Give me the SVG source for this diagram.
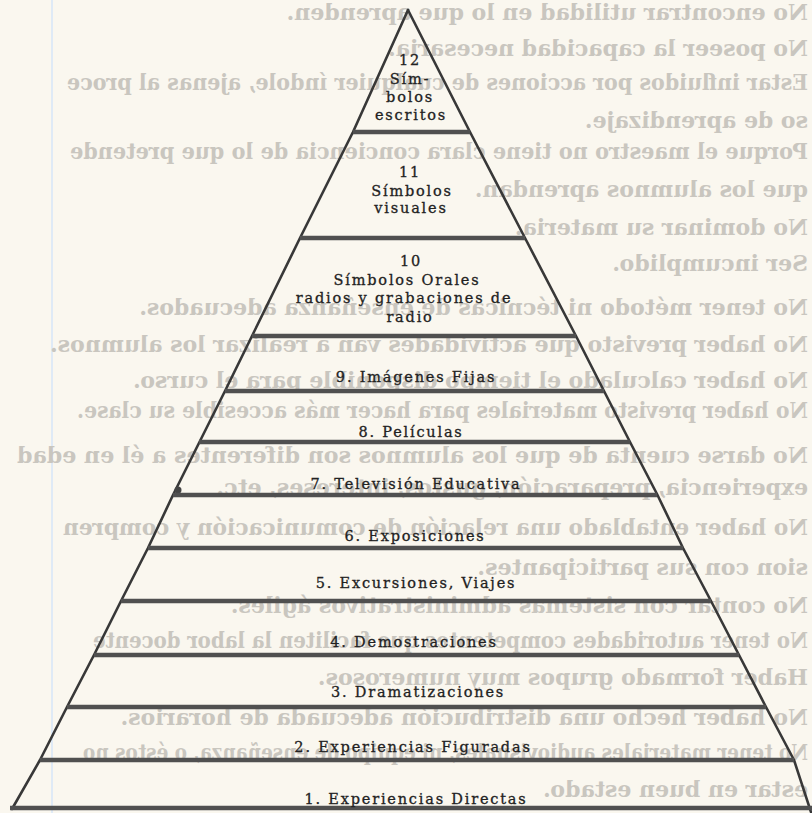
<svg xmlns="http://www.w3.org/2000/svg" width="812" height="813" viewBox="0 0 812 813">
<style>
.bleed{font-family:"DejaVu Serif","Liberation Serif",serif;font-weight:bold;font-size:22px;fill:#c9c6bf}
.lbl{font-family:"DejaVu Serif","Liberation Serif",serif;font-size:14.5px;letter-spacing:1.8px;fill:#222;stroke:#222;stroke-width:0.3;text-anchor:middle}
.edge{fill:none;stroke:#383838;stroke-width:2.6;stroke-linejoin:round;stroke-linecap:round}
.div{stroke:#505050;stroke-width:4.5;stroke-linecap:butt}
</style>
<rect x="0" y="0" width="812" height="813" fill="#faf7ef"/>
<line x1="52" y1="0" x2="52" y2="813" stroke="#d6e6f8" stroke-width="1.5"/>
<g id="show-through" transform="matrix(-1 0 0 1 812 0)">
<text class="bleed" x="4" y="20">No encontrar utilidad en lo que aprenden.</text>
<text class="bleed" x="4" y="56">No poseer la capacidad necesaria.</text>
<text class="bleed" x="4" y="90" textLength="741" lengthAdjust="spacingAndGlyphs">Estar influidos por acciones de cualquier índole, ajenas al proce</text>
<text class="bleed" x="4" y="128">so de aprendizaje.</text>
<text class="bleed" x="4" y="159" textLength="738" lengthAdjust="spacingAndGlyphs">Porque el maestro no tiene clara conciencia de lo que pretende</text>
<text class="bleed" x="4" y="197">que los alumnos aprendan.</text>
<text class="bleed" x="4" y="235">No dominar su materia.</text>
<text class="bleed" x="4" y="271">Ser incumplido.</text>
<text class="bleed" x="4" y="315">No tener método ni técnicas de enseñanza adecuados.</text>
<text class="bleed" x="4" y="352" textLength="758" lengthAdjust="spacingAndGlyphs">No haber previsto que actividades van a realizar los alumnos.</text>
<text class="bleed" x="4" y="388">No haber calculado el tiempo disponible para el curso.</text>
<text class="bleed" x="4" y="418" textLength="731" lengthAdjust="spacingAndGlyphs">No haber previsto materiales para hacer más accesible su clase.</text>
<text class="bleed" x="4" y="463" textLength="791" lengthAdjust="spacingAndGlyphs">No darse cuenta de que los alumnos son diferentes a él en edad</text>
<text class="bleed" x="4" y="495">experiencia, preparación, gustos, intereses, etc.</text>
<text class="bleed" x="4" y="535" textLength="745" lengthAdjust="spacingAndGlyphs">No haber entablado una relación de comunicación y compren</text>
<text class="bleed" x="4" y="575">sion con sus participantes.</text>
<text class="bleed" x="4" y="613">No contar con sistemas administrativos ágiles.</text>
<text class="bleed" x="4" y="648" textLength="715" lengthAdjust="spacingAndGlyphs">No tener autoridades competentes que faciliten la labor docente</text>
<text class="bleed" x="4" y="685">Haber formado grupos muy numerosos.</text>
<text class="bleed" x="4" y="725">No haber hecho una distribución adecuada de horarios.</text>
<text class="bleed" x="4" y="760" textLength="725" lengthAdjust="spacingAndGlyphs">No tener materiales audiovisuales, ni equipo de enseñanza, o éstos no</text>
<text class="bleed" x="4" y="797">estar en buen estado.</text>
</g>
<g id="pyramid-outline">
<path class="edge" d="M408,10 L353,132 L300,238 L252,336 L225,391 L199,443 L173,495 L148,548 L121,601 L94,655 L67,707 L40,760 L12,809"/>
<path class="edge" d="M408,10 L470,132 L525,238 L576,336 L604,391 L630,442 L657,494 L683,548 L711,601 L739,655 L766,707 L794,760 L811,812"/>
<circle cx="178" cy="490" r="3.5" fill="#444"/>
</g>
<g id="dividers">
<line class="div" x1="353" y1="132" x2="470" y2="132"/>
<line class="div" x1="300" y1="238" x2="525" y2="238"/>
<line class="div" x1="252" y1="336" x2="576" y2="336"/>
<line class="div" x1="225" y1="391" x2="604" y2="391"/>
<line class="div" x1="199" y1="442" x2="630" y2="442"/>
<line class="div" x1="173" y1="495" x2="657" y2="495"/>
<line class="div" x1="148" y1="548" x2="683" y2="548"/>
<line class="div" x1="121" y1="601" x2="711" y2="601"/>
<line class="div" x1="94" y1="655" x2="739" y2="655"/>
<line class="div" x1="67" y1="707" x2="766" y2="707"/>
<line class="div" x1="40" y1="760" x2="794" y2="760"/>
<line class="div" x1="10" y1="808" x2="812" y2="808"/>
</g>
<g id="tier-12">
<text class="lbl" x="410" y="65">12</text>
<text class="lbl" x="410" y="84">Sím-</text>
<text class="lbl" x="410" y="102">bolos</text>
<text class="lbl" x="411" y="120">escritos</text>
</g>
<g id="tier-11">
<text class="lbl" x="410" y="177">11</text>
<text class="lbl" x="412" y="196">Símbolos</text>
<text class="lbl" x="411" y="213">visuales</text>
</g>
<g id="tier-10">
<text class="lbl" x="411" y="266">10</text>
<text class="lbl" x="407" y="285">Símbolos Orales</text>
<text class="lbl" x="404" y="303">radios y grabaciones de</text>
<text class="lbl" x="410" y="322">radio</text>
</g>
<g id="tier-9"><text class="lbl" x="416" y="382">9. Imágenes Fijas</text></g>
<g id="tier-8"><text class="lbl" x="411" y="437">8. Películas</text></g>
<g id="tier-7"><text class="lbl" x="416" y="489">7. Televisión Educativa</text></g>
<g id="tier-6"><text class="lbl" x="415" y="541">6. Exposiciones</text></g>
<g id="tier-5"><text class="lbl" x="416" y="588">5. Excursiones, Viajes</text></g>
<g id="tier-4"><text class="lbl" x="414" y="647">4. Demostraciones</text></g>
<g id="tier-3"><text class="lbl" x="418" y="697">3. Dramatizaciones</text></g>
<g id="tier-2"><text class="lbl" x="413" y="752">2. Experiencias Figuradas</text></g>
<g id="tier-1"><text class="lbl" x="416" y="804">1. Experiencias Directas</text></g>
</svg>
